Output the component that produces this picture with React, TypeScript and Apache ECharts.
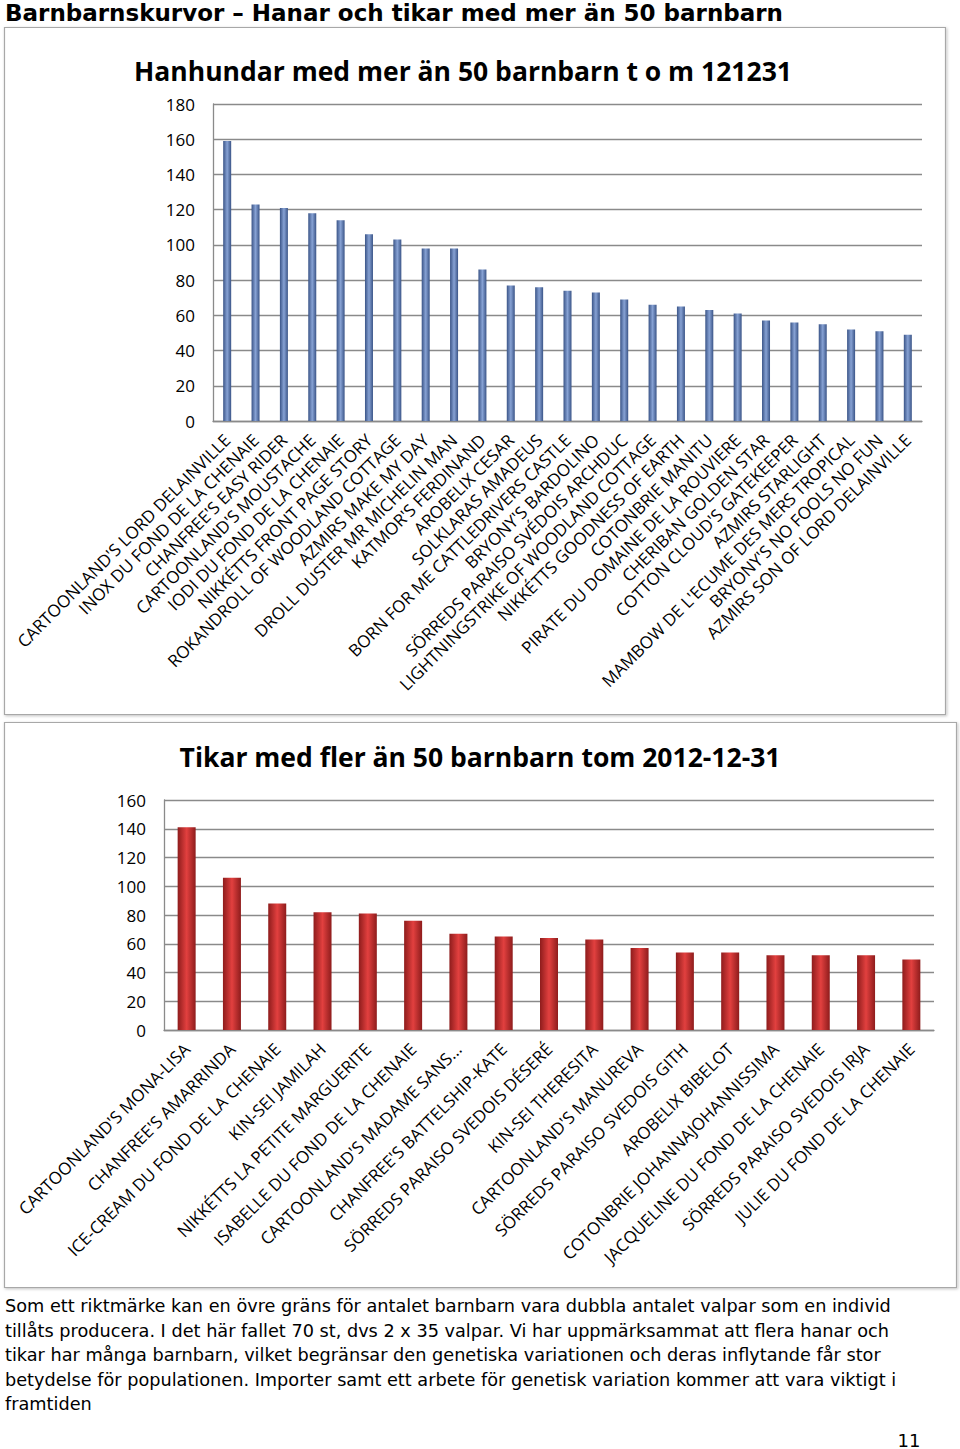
import React, { useEffect, useRef } from "react";
import * as echarts from "echarts";

const topNames = [
  "CARTOONLAND'S LORD DELAINVILLE",
  "INOX DU FOND DE LA CHENAIE",
  "CHANFREE'S EASY RIDER",
  "CARTOONLAND'S MOUSTACHE",
  "IODI DU FOND DE LA CHENAIE",
  "NIKKÉTTS FRONT PAGE STORY",
  "ROKANDROLL OF WOODLAND COTTAGE",
  "AZMIRS MAKE MY DAY",
  "DROLL DUSTER MR MICHELIN MAN",
  "KATMOR'S FERDINAND",
  "AROBELIX CESAR",
  "SOLKLARAS AMADEUS",
  "BORN FOR ME CATTLEDRIVERS CASTLE",
  "BRYONY'S BARDOLINO",
  "SÖRREDS PARAISO SVÉDOIS ARCHDUC",
  "LIGHTNINGSTRIKE OF WOODLAND COTTAGE",
  "NIKKÉTTS GOODNESS OF EARTH",
  "COTONBRIE MANITU",
  "PIRATE DU DOMAINE DE LA ROUVIERE",
  "CHERIBAN GOLDEN STAR",
  "COTTON CLOUD'S GATEKEEPER",
  "AZMIRS STARLIGHT",
  "MAMBOW DE L'ECUME DES MERS TROPICAL",
  "BRYONY'S NO FOOLS NO FUN",
  "AZMIRS SON OF LORD DELAINVILLE",
];
const topValues = [159, 123, 121, 118, 114, 106, 103, 98, 98, 86, 77, 76, 74, 73, 69, 66, 65, 63, 61, 57, 56, 55, 52, 51, 49];

const bottomNames = [
  "CARTOONLAND'S MONA-LISA",
  "CHANFREE'S AMARRINDA",
  "ICE-CREAM DU FOND DE LA CHENAIE",
  "KIN-SEI JAMILAH",
  "NIKKÉTTS LA PETITE MARGUERITE",
  "ISABELLE DU FOND DE LA CHENAIE",
  "CARTOONLAND'S MADAME SANS...",
  "CHANFREE'S BATTELSHIP-KATE",
  "SÖRREDS PARAISO SVEDOIS DÉSERÉ",
  "KIN-SEI THERESITA",
  "CARTOONLAND'S MANUREVA",
  "SÖRREDS PARAISO SVEDOIS GITH",
  "AROBELIX BIBELOT",
  "COTONBRIE JOHANNAJOHANNISSIMA",
  "JACQUELINE DU FOND DE LA CHENAIE",
  "SÖRREDS PARAISO SVEDOIS IRJA",
  "JULIE DU FOND DE LA CHENAIE",
];
const bottomValues = [141, 106, 88, 82, 81, 76, 67, 65, 64, 63, 57, 54, 54, 52, 52, 52, 49];

const headerText = "Barnbarnskurvor – Hanar och tikar med mer än 50 barnbarn";
const topTitle = "Hanhundar med mer än 50 barnbarn t o m 121231";
const bottomTitle = "Tikar med fler än 50 barnbarn tom 2012-12-31";
const paragraphLines = [
  "Som ett riktmärke kan en övre gräns för antalet barnbarn vara dubbla antalet valpar som en individ",
  "tillåts producera. I det här fallet 70 st, dvs 2 x 35 valpar. Vi har uppmärksammat att flera hanar och",
  "tikar har många barnbarn, vilket begränsar den genetiska variationen och deras inflytande får stor",
  "betydelse för populationen. Importer samt ett arbete för genetisk variation kommer att vara viktigt i",
  "framtiden",
];
const pageNumber = "11";

const chartFont = "'Open Sans', sans-serif";

export default function App() {
  const ref = useRef<HTMLDivElement>(null);
  useEffect(() => {
    if (!ref.current) return;
    const chart = echarts.init(ref.current, undefined, { renderer: "svg" });
    const blueGrad = new echarts.graphic.LinearGradient(0, 0, 1, 0, [
      { offset: 0, color: "#3a5487" },
      { offset: 0.5, color: "#87a2d4" },
      { offset: 1, color: "#3a5487" },
    ]);
    const redGrad = new echarts.graphic.LinearGradient(0, 0, 1, 0, [
      { offset: 0, color: "#8e1c1c" },
      { offset: 0.5, color: "#e2403f" },
      { offset: 1, color: "#8e1c1c" },
    ]);
    const gridLine = { lineStyle: { color: "#8a8a8a", width: 1.3 } };
    const axisLine = { show: true, lineStyle: { color: "#8a8a8a", width: 1.3 } };

    const graphics: any[] = [
      {
        type: "rect",
        shape: { x: 4.5, y: 27.5, width: 941, height: 687 },
        style: { fill: "#fff", stroke: "#a8a8a8", lineWidth: 1.2, shadowBlur: 3, shadowColor: "rgba(0,0,0,0.25)", shadowOffsetX: 1, shadowOffsetY: 1 },
        z: -10,
      },
      {
        type: "rect",
        shape: { x: 4.5, y: 722.5, width: 952, height: 565 },
        style: { fill: "#fff", stroke: "#a8a8a8", lineWidth: 1.2, shadowBlur: 3, shadowColor: "rgba(0,0,0,0.25)", shadowOffsetX: 1, shadowOffsetY: 1 },
        z: -10,
      },
      {
        type: "text",
        x: 5,
        y: 13,
        style: { text: headerText, font: "bold 23px 'DejaVu Sans', sans-serif", fill: "#000", textVerticalAlign: "middle" },
      },
      {
        type: "text",
        x: 463,
        y: 71,
        style: { text: topTitle, font: `bold 26.5px ${chartFont}`, fill: "#000", textAlign: "center", textVerticalAlign: "middle" },
      },
      {
        type: "text",
        x: 480,
        y: 757,
        style: { text: bottomTitle, font: `bold 26.5px ${chartFont}`, fill: "#000", textAlign: "center", textVerticalAlign: "middle" },
      },
      ...paragraphLines.map((t, i) => ({
        type: "text",
        x: 5,
        y: 1306 + i * 24.5,
        style: { text: t, font: "17.7px 'DejaVu Sans', sans-serif", fill: "#000", textVerticalAlign: "middle" },
      })),
      {
        type: "text",
        x: 909,
        y: 1440,
        style: { text: pageNumber, font: "18px 'DejaVu Sans', sans-serif", fill: "#000", textAlign: "center", textVerticalAlign: "middle" },
      },
    ];

    chart.setOption({
      animation: false,
      backgroundColor: "#fff",
      grid: [
        { left: 213, top: 104, width: 709, height: 317 },
        { left: 164, top: 800, width: 770, height: 230 },
      ],
      xAxis: [
        {
          type: "category",
          gridIndex: 0,
          data: topNames,
          axisTick: { show: false },
          axisLine,
          axisLabel: { interval: 0, rotate: 45, fontSize: 17, color: "#000", fontFamily: chartFont, margin: 16 },
        },
        {
          type: "category",
          gridIndex: 1,
          data: bottomNames,
          axisTick: { show: false },
          axisLine,
          axisLabel: { interval: 0, rotate: 45, fontSize: 17, color: "#000", fontFamily: chartFont, margin: 16 },
        },
      ],
      yAxis: [
        {
          type: "value",
          gridIndex: 0,
          min: 0,
          max: 180,
          interval: 20,
          axisLine,
          axisTick: { show: false },
          splitLine: gridLine,
          axisLabel: { fontSize: 17, color: "#000", fontFamily: chartFont, margin: 18 },
        },
        {
          type: "value",
          gridIndex: 1,
          min: 0,
          max: 160,
          interval: 20,
          axisLine,
          axisTick: { show: false },
          splitLine: gridLine,
          axisLabel: { fontSize: 17, color: "#000", fontFamily: chartFont, margin: 18 },
        },
      ],
      series: [
        {
          type: "bar",
          xAxisIndex: 0,
          yAxisIndex: 0,
          data: topValues,
          barWidth: 8,
          itemStyle: { color: blueGrad },
        },
        {
          type: "bar",
          xAxisIndex: 1,
          yAxisIndex: 1,
          data: bottomValues,
          barWidth: 18,
          itemStyle: { color: redGrad },
        },
      ],
      graphic: graphics,
    });
    return () => chart.dispose();
  }, []);
  return (
    <div
      ref={ref}
      style={{ position: "absolute", left: 0, top: 0, width: 960, height: 1449 }}
    />
  );
}
